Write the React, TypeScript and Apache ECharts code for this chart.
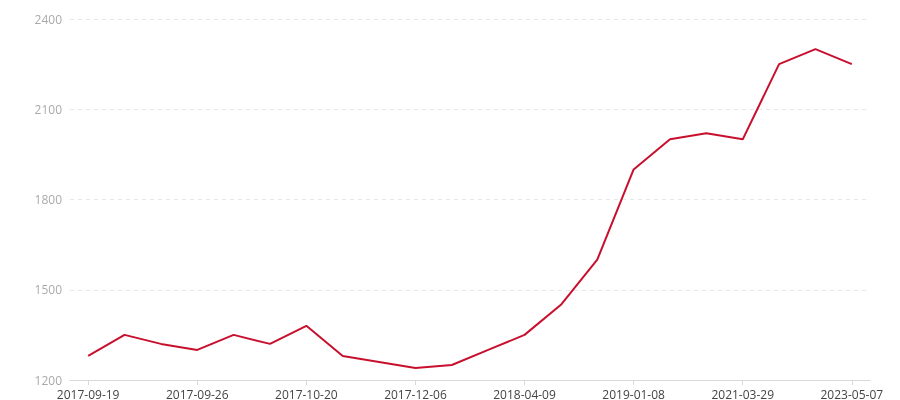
import React, { useEffect, useRef } from "react";
import * as echarts from "echarts";

const categories: string[] = [
  "2017-09-19", "2017-09-21", "2017-09-24", "2017-09-26", "2017-10-10", "2017-10-15",
  "2017-10-20", "2017-11-01", "2017-11-20", "2017-12-06", "2018-01-15", "2018-02-28",
  "2018-04-09", "2018-06-20", "2018-09-10", "2019-01-08", "2019-09-15", "2020-06-20",
  "2021-03-29", "2022-01-10", "2022-09-15", "2023-05-07",
];

const values: number[] = [
  1280, 1350, 1320, 1300, 1350, 1320,
  1380, 1280, 1260, 1240, 1250, 1300,
  1350, 1450, 1600, 1900, 2000, 2020,
  2000, 2250, 2300, 2250,
];

const yTicks: number[] = [1200, 1500, 1800, 2100, 2400];

export default function App() {
  const ref = useRef<HTMLDivElement>(null);
  useEffect(() => {
    if (!ref.current) return;
    const chart = echarts.init(ref.current, null, { renderer: "svg" });
    chart.setOption({
      animation: false,
      textStyle: { fontFamily: "'Open Sans', sans-serif" },
      grid: { left: 70, right: 30, top: 19, bottom: 20, containLabel: false },
      xAxis: {
        type: "category",
        data: categories,
        boundaryGap: true,
        axisLine: { lineStyle: { color: "#d9d9d9", width: 1 } },
        axisTick: { show: true, alignWithLabel: true, interval: 2, lineStyle: { color: "#d9d9d9" } },
        axisLabel: { interval: 2, color: "#444", fontSize: 12, margin: 8 },
      },
      yAxis: {
        type: "value",
        min: yTicks[0],
        max: yTicks[yTicks.length - 1],
        interval: 300,
        axisLine: { show: false },
        axisTick: { show: false },
        axisLabel: { color: "#aaa", fontSize: 12, margin: 8, formatter: (v: number) => String(v) },
        splitLine: { lineStyle: { color: "#e8e8e8", type: [4, 4] } },
      },
      series: [
        {
          type: "line",
          data: values,
          symbol: "none",
          lineStyle: { color: "#c8102e", width: 2 },
          itemStyle: { color: "#c8102e" },
        },
      ],
    });
    return () => chart.dispose();
  }, []);
  return <div ref={ref} style={{ position: "fixed", left: 0, top: 0, width: 900, height: 400 }} />;
}
